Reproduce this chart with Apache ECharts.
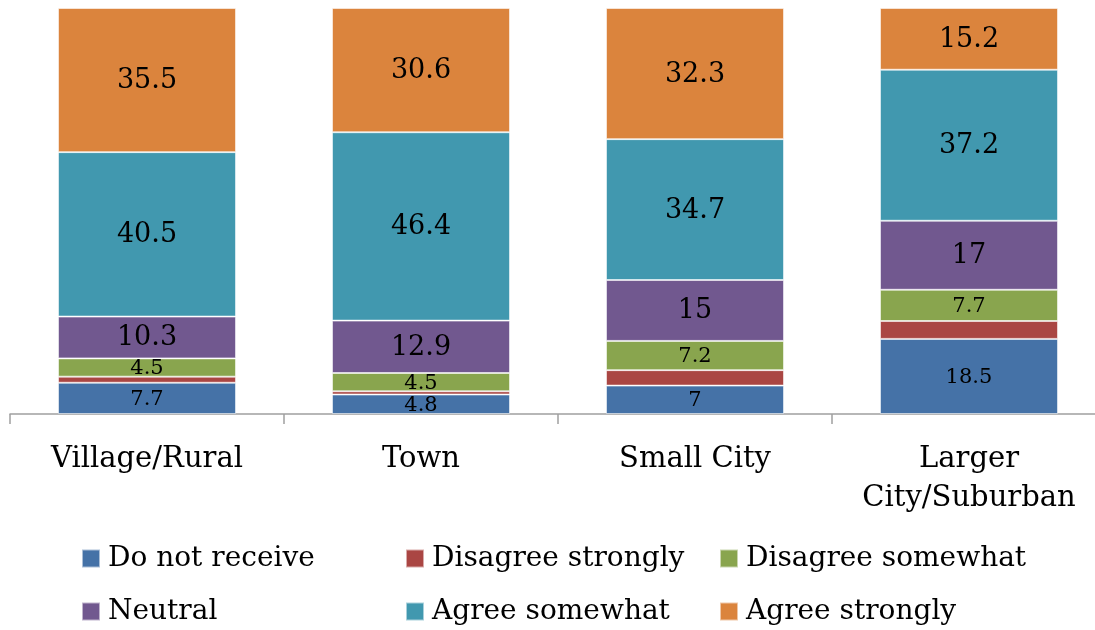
<!DOCTYPE html>
<html>
<head>
<meta charset="utf-8">
<script src="https://cdn.jsdelivr.net/npm/echarts@6/dist/echarts.min.js"></script>
<style>
  html, body { margin: 0; padding: 0; background: #fff; }
  #chart { width: 1095px; height: 630px; }
</style>
</head>
<body>
<div id="chart"></div>
<script>
// Community type on the x axis, response shares (percent) stacked to 100
const categories = ['Village/Rural', 'Town', 'Small City', 'Larger\nCity/Suburban'];
const doNotReceive = [7.7, 4.8, 7, 18.5];
const disagreeStrongly = [1.5, 0.8, 3.8, 4.4];
const disagreeSomewhat = [4.5, 4.5, 7.2, 7.7];
const neutral = [10.3, 12.9, 15, 17];
const agreeSomewhat = [40.5, 46.4, 34.7, 37.2];
const agreeStrongly = [35.5, 30.6, 32.3, 15.2];

const FONT = '"DejaVu Serif", "Liberation Serif", serif';

function makeSeries(name, data, color, labelSize) {
  return {
    name: name,
    type: 'bar',
    stack: 'total',
    data: data,
    barWidth: 178,
    itemStyle: { color: color, borderColor: 'rgba(255,255,255,0.55)', borderWidth: 1 },
    label: labelSize ? {
      show: true,
      position: 'inside',
      offset: [0, 1],
      color: '#000',
      fontFamily: FONT,
      fontSize: labelSize
    } : { show: false },
    emphasis: { disabled: true }
  };
}

const legendText = { fontFamily: FONT, fontSize: 28, color: '#000', lineHeight: 35, padding: [0, 0, 0, 3] };
function legendColumn(left, names) {
  return {
    orient: 'vertical',
    left: left,
    top: 541,
    padding: 0,
    itemWidth: 18,
    itemHeight: 18,
    itemGap: 18,
    icon: 'rect',
    textStyle: legendText,
    selectedMode: false,
    data: names
  };
}

const chart = echarts.init(document.getElementById('chart'), null, { renderer: 'canvas' });
chart.setOption({
  animation: false,
  backgroundColor: '#fff',
  grid: { left: 10, top: 8, width: 1096, height: 406, containLabel: false, outerBoundsMode: 'none' },
  xAxis: {
    type: 'category',
    data: categories,
    axisLine: { lineStyle: { color: '#A0A0A0', width: 1.5 } },
    axisTick: { show: true, length: 10, alignWithLabel: false, lineStyle: { color: '#A0A0A0', width: 1.5 } },
    axisLabel: {
      interval: 0,
      margin: 26,
      fontFamily: FONT,
      fontSize: 29,
      color: '#000',
      lineHeight: 39
    }
  },
  yAxis: {
    type: 'value',
    min: 0,
    max: 100,
    show: false
  },
  legend: [
    legendColumn(81, ['Do not receive', 'Neutral']),
    legendColumn(405, ['Disagree strongly', 'Agree somewhat']),
    legendColumn(719, ['Disagree somewhat', 'Agree strongly'])
  ],
  series: [
    makeSeries('Do not receive', doNotReceive, '#4572A7', 21),
    makeSeries('Disagree strongly', disagreeStrongly, '#AA4643', 0),
    makeSeries('Disagree somewhat', disagreeSomewhat, '#89A54E', 21),
    makeSeries('Neutral', neutral, '#71588F', 27),
    makeSeries('Agree somewhat', agreeSomewhat, '#4198AF', 27),
    makeSeries('Agree strongly', agreeStrongly, '#DB843D', 27)
  ]
});
</script>
</body>
</html>
